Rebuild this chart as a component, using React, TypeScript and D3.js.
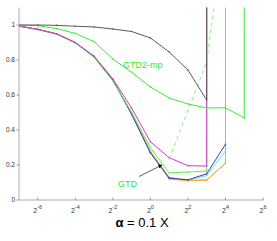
import React from "react";
import * as d3 from "d3";

const W = 277;
const H = 241;

// log2 exponents of alpha (x positions)
const exps = [-7, -6, -5, -4, -3, -2, -1, 0, 1, 2, 3, 4, 5, 6];
const BIG = 1000; // diverged

const blackVals = [1.0, 1.0, 0.998, 0.993, 0.989, 0.977, 0.963, 0.926, 0.846, 0.743, 0.571, BIG, null, null];
const gtd2mpVals = [1.0, 0.996, 0.98, 0.952, 0.905, 0.806, 0.73, 0.646, 0.583, 0.549, 0.526, 0.527, 0.469, BIG];
const magentaVals = [0.994, 0.975, 0.95, 0.9, 0.822, 0.692, 0.525, 0.333, 0.242, 0.196, 0.194, BIG, null, null];
const gtdVals = [0.994, 0.975, 0.948, 0.897, 0.815, 0.68, 0.5, 0.3, 0.155, 0.16, 0.165, BIG, null, null];
const oliveVals = [0.994, 0.975, 0.949, 0.899, 0.819, 0.686, 0.5, 0.28, 0.13, 0.114, 0.114, 0.21, BIG, null];
const blueVals = [0.994, 0.975, 0.949, 0.899, 0.819, 0.686, 0.49, 0.27, 0.125, 0.115, 0.15, 0.318, null, null];
const cyanVals = [0.994, 0.975, 0.949, 0.899, 0.819, 0.686, 0.49, 0.27, 0.125, 0.115, 0.14, 0.28, null, null];
const orangeVals = [0.994, 0.975, 0.949, 0.899, 0.819, 0.686, 0.49, 0.27, 0.12, 0.11, 0.114, 0.21, null, null];
const dashedVals = [null, null, null, null, null, null, null, null, 0.234, 0.51, 0.79, 1.59, null, null];

const yTicks = [0, 0.2, 0.4, 0.6, 0.8, 1];
const xTickExps = [-6, -4, -2, 0, 2, 4, 6];

const series = [
  { vals: oliveVals, color: "#c8b850", dash: "" },
  { vals: orangeVals, color: "#ffa526", dash: "" },
  { vals: cyanVals, color: "#55e8f0", dash: "" },
  { vals: blueVals, color: "#3a3ac8", dash: "" },
  { vals: gtdVals, color: "#66ee44", dash: "" },
  { vals: magentaVals, color: "#e030d8", dash: "" },
  { vals: dashedVals, color: "#88f088", dash: "4,3" },
  { vals: gtd2mpVals, color: "#33ee33", dash: "" },
  { vals: blackVals, color: "#5a5a5a", dash: "" },
];

export default function App() {
  const x = d3.scaleLog().base(2).domain([Math.pow(2, -7), Math.pow(2, 6)]).range([19, 263]);
  const y = d3.scaleLinear().domain([0, 1.1]).range([200, 7.5]);
  const line = d3
    .line<[number, number | null]>()
    .defined((d) => d[1] !== null)
    .x((d) => x(Math.pow(2, d[0])))
    .y((d) => y(d[1] as number));

  return (
    <svg width={W} height={H} style={{ position: "absolute", left: 0, top: 0, background: "#fff" }}
      fontFamily="Liberation Sans, Arial, sans-serif">
      <defs>
        <clipPath id="plot">
          <rect x={19} y={7.5} width={244} height={192.5} />
        </clipPath>
        <marker id="ah" viewBox="0 0 10 10" refX="9" refY="5" markerWidth="5" markerHeight="5" orient="auto">
          <path d="M0,0 L10,5 L0,10 z" fill="#000" />
        </marker>
      </defs>
      <g clipPath="url(#plot)">
        {series.map((s, i) => {
          const pts = exps.map((e, j) => [e, s.vals[j]] as [number, number | null]);
          return (
            <g key={i}>
              <path d={line(pts) || ""} fill="none" stroke={s.color} strokeWidth={1} strokeDasharray={s.dash} />
              {pts.filter((p) => p[1] !== null && (p[1] as number) < 1.1).map((p, k) => (
                <circle key={k} cx={x(Math.pow(2, p[0]))} cy={y(p[1] as number)} r={0.8} fill={s.color} />
              ))}
            </g>
          );
        })}
      </g>
      {/* axes */}
      <line x1={19} y1={7.5} x2={19} y2={200} stroke="#aaa" strokeWidth={1} />
      <line x1={19} y1={200} x2={264} y2={200} stroke="#aaa" strokeWidth={1} />
      {yTicks.map((t) => (
        <g key={t}>
          <line x1={16.5} x2={19} y1={y(t)} y2={y(t)} stroke="#999" />
          <text x={15} y={y(t) + 2.3} fontSize={6.5} textAnchor="end" fill="#333">{t === 0 || t === 1 ? String(t) : t.toFixed(1)}</text>
        </g>
      ))}
      {xTickExps.map((e) => (
        <g key={e}>
          <line x1={x(Math.pow(2, e))} x2={x(Math.pow(2, e))} y1={200} y2={197.5} stroke="#999" />
          <text x={x(Math.pow(2, e))} y={213} fontSize={7} textAnchor="middle" fill="#333">
            2<tspan dy={-4} fontSize={5.5}>{e}</tspan>
          </text>
        </g>
      ))}
      <text x={142} y={227} fontSize={13} textAnchor="middle" fill="#000">
        <tspan fontWeight="bold">α</tspan> = 0.1 X
      </text>
      <text x={123} y={68} fontSize={9} fill="#22ee22">GTD2-mp</text>
      <text x={118} y={186.5} fontSize={9} fill="#22ee22">GTD</text>
      <line x1={139} y1={176.5} x2={162} y2={165} stroke="#333" strokeWidth={0.8} markerEnd="url(#ah)" />
    </svg>
  );
}
